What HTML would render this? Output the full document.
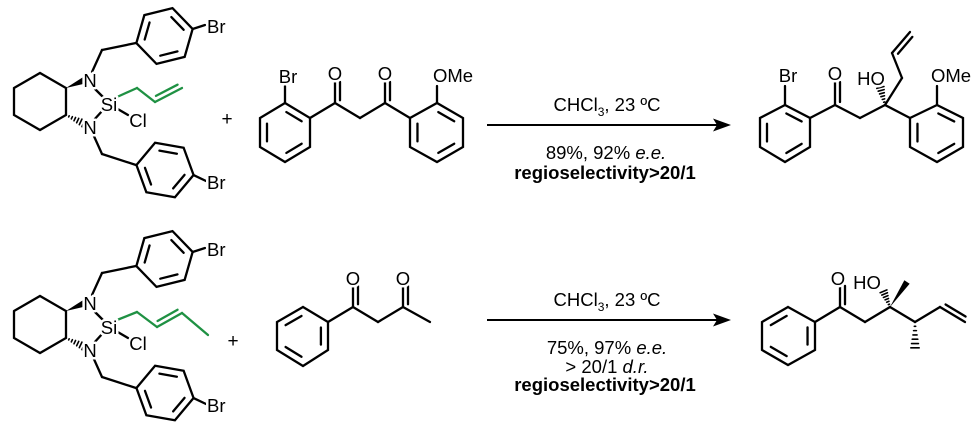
<!DOCTYPE html>
<html><head><meta charset="utf-8"><style>
html,body{margin:0;padding:0;background:#fff;}
svg{display:block;}
text{font-family:"Liberation Sans",Arial,sans-serif;fill:#000;}
.lab{font-size:18.5px;paint-order:stroke;stroke:#fff;stroke-width:5px;stroke-linejoin:round;}
.cond{font-size:18.5px;}
</style></head><body>
<svg id="s" width="976" height="425" viewBox="0 0 976 425" xmlns="http://www.w3.org/2000/svg">
<g id="bonds" stroke="#000" stroke-width="2.3" stroke-linecap="round" fill="none"></g>
<g id="labels"></g>
<text class="cond" x="607" y="111" text-anchor="middle">CHCl<tspan font-size="12" dy="5">3</tspan><tspan dy="-5">, 23 ºC</tspan></text>
<text class="cond" x="606" y="159" text-anchor="middle">89%, 92% <tspan font-style="italic">e.e.</tspan></text>
<text class="cond" x="605" y="179" text-anchor="middle" font-weight="bold" font-size="19">regioselectivity&gt;20/1</text>
<line x1="487" y1="125" x2="718" y2="125" stroke="#000" stroke-width="2"/>
<polygon points="731,125 713,118.5 717,125 713,131.5" fill="#000"/>

<text class="cond" x="607" y="306" text-anchor="middle">CHCl<tspan font-size="12" dy="5">3</tspan><tspan dy="-5">, 23 ºC</tspan></text>
<text class="cond" x="607" y="354" text-anchor="middle">75%, 97% <tspan font-style="italic">e.e.</tspan></text>
<text class="cond" x="607" y="373" text-anchor="middle">&gt; 20/1 <tspan font-style="italic">d.r.</tspan></text>
<text class="cond" x="605" y="391" text-anchor="middle" font-weight="bold" font-size="19">regioselectivity&gt;20/1</text>
<line x1="487" y1="320" x2="718" y2="320" stroke="#000" stroke-width="2"/>
<polygon points="731,320 713,313.5 717,320 713,326.5" fill="#000"/>

<text x="227" y="125" font-size="19" text-anchor="middle">+</text>
<text x="233" y="347" font-size="19" text-anchor="middle">+</text>
</svg>
<script>
var NS="http://www.w3.org/2000/svg";
var B=document.getElementById("bonds"),LB=document.getElementById("labels");
function el(t,a,p){var e=document.createElementNS(NS,t);for(var k in a)e.setAttribute(k,a[k]);(p||B).appendChild(e);return e;}
function L(x1,y1,x2,y2,c){el("line",{x1:x1,y1:y1,x2:x2,y2:y2,stroke:c||"#000"});}
function P(pts){var s="";for(var i=0;i<pts.length;i++)s+=(i?" L":"M")+pts[i][0]+","+pts[i][1];el("path",{d:s});}
function ring(v,dbl){var cx=0,cy=0;v.forEach(function(p){cx+=p[0];cy+=p[1];});cx/=6;cy/=6;
 P(v.concat([v[0]]));
 dbl.forEach(function(i){var a=v[i],b=v[(i+1)%6],f=0.72;
  var ax=cx+f*(a[0]-cx),ay=cy+f*(a[1]-cy),bx=cx+f*(b[0]-cx),by=cy+f*(b[1]-cy);
  var mx=(ax+bx)/2,my=(ay+by)/2,s=0.85;
  L(mx+(ax-mx)*s,my+(ay-my)*s,mx+(bx-mx)*s,my+(by-my)*s);});}
function hexC(cx,cy,r,a0){var v=[];for(var i=0;i<6;i++){var a=(a0+60*i)*Math.PI/180;v.push([cx+r*Math.cos(a),cy+r*Math.sin(a)]);}return v;}
function dblOff(x1,y1,x2,y2,side,c){var dx=x2-x1,dy=y2-y1,l=Math.hypot(dx,dy),nx=-dy/l*5*side,ny=dx/l*5*side;
 L(x1,y1,x2,y2,c);L(x1+nx+dx*0.12,y1+ny+dy*0.12,x2+nx-dx*0.08,y2+ny-dy*0.08,c);}
function T(x,y,s,anchor){var t=el("text",{x:x,y:y,"class":"lab","text-anchor":anchor||"middle"},LB);t.textContent=s;}
function wedge(x1,y1,x2,y2,w){var dx=x2-x1,dy=y2-y1,l=Math.hypot(dx,dy),nx=-dy/l*w,ny=dx/l*w;
 el("polygon",{points:x1+","+y1+" "+(x2+nx)+","+(y2+ny)+" "+(x2-nx)+","+(y2-ny),fill:"#000",stroke:"none"});}
function hash(x1,y1,x2,y2,w){var dx=x2-x1,dy=y2-y1,l=Math.hypot(dx,dy),nx=-dy/l,ny=dx/l;
 for(var i=1;i<=6;i++){var f=i/6.5,hw=w*f,px=x1+dx*f,py=y1+dy*f;
  el("line",{x1:px+nx*hw,y1:py+ny*hw,x2:px-nx*hw,y2:py-ny*hw,"stroke-width":"1.6"});}}

function silane(o){
 P([[14,88+o],[40,73+o],[66,88+o],[66,115+o],[40,130+o],[14,115+o],[14,88+o]]);
 wedge(66,88+o,85,80+o,3.5);
 hash(66,115+o,85,124+o,4);
 L(92,72+o,102,50+o);L(102,50+o,136,43+o);
 L(92,86+o,103,97+o);L(103,110+o,93,121+o);L(116,108+o,128,115+o);
 L(93,134+o,102,154+o);L(102,154+o,136,165+o);
 var r1=hexC(164.5,36+o,29,166);ring(r1,[0,2,4]);L(r1[3][0],r1[3][1],205,25+o);
 var r2=hexC(165,170+o,29,190);ring(r2,[1,3,5]);L(r2[3][0],r2[3][1],206,181+o);
 T(90,87+o,"N");T(109,111+o,"Si");T(90,134+o,"N");T(138,127+o,"Cl","middle");
 T(207,33+o,"Br","start");T(207,189+o,"Br","start");
}
silane(0);silane(223);
var G="#1f9143";
L(117,97,137,88,G);L(137,88,155,102,G);dblOff(155,102,182,88,-1,G);
L(117,320,137,312,G);L(137,312,157,327,G);dblOff(157,327,182,313,-1,G);L(182,313,208,335,G);

var ra=[[285,103],[310,118],[310,147],[285,162],[260,147],[260,118]];ring(ra,[0,2,4]);
L(285,103,285,86);L(310,118,335,103);dblOff(335,103,335,80,1);L(335,103,360,118);L(360,118,385,103);dblOff(385,103,385,80,1);L(385,103,410,118);
var rb=[[410,118],[437,103],[463,118],[463,147],[437,162],[410,147]];ring(rb,[1,3,5]);
L(437,103,437,86);
T(288,83,"Br");T(335,80,"O");T(385,80,"O");T(433,82,"OMe","start");

var rc=[[785,105],[810,118],[810,147],[785,162],[760,147],[760,118]];ring(rc,[0,2,4]);
L(785,105,785,86);L(810,118,835,105);dblOff(835,105,835,80,1);L(835,105,860,118);L(860,118,885,105);
hash(885,105,880,86,4);L(885,105,902,78);L(902,78,892,53);dblOff(892,53,910,32,1);
L(885,105,910,118);
var rd=[[910,118],[937,105],[963,118],[963,147],[937,162],[910,147]];ring(rd,[1,3,5]);L(937,105,937,86);
T(788,82,"Br");T(835,80,"O");T(871,85,"HO");T(931,82,"OMe","start");

var re=[[303,307],[328,322],[328,350],[303,366],[277,350],[277,322]];ring(re,[1,3,5]);
L(328,322,353,307);dblOff(353,307,353,284,1);L(353,307,378,322);L(378,322,403,307);dblOff(403,307,403,284,1);L(403,307,430,322);
T(353,285,"O");T(403,285,"O");

var rf=[[788,307],[815,322],[815,350],[788,365],[762,350],[762,322]];ring(rf,[1,3,5]);
L(815,322,840,307);dblOff(840,307,840,284,1);L(840,307,865,322);L(865,322,890,307);
hash(890,307,883,290,4);wedge(907,282,890,307,0.1);wedge(890,307,907,282,3.2);
L(890,307,915,322);hash(915,322,915,350,4.5);L(915,322,940,307);dblOff(940,307,965,322,-1);
T(838,285,"O");T(867,289,"HO");
</script>
</body></html>
